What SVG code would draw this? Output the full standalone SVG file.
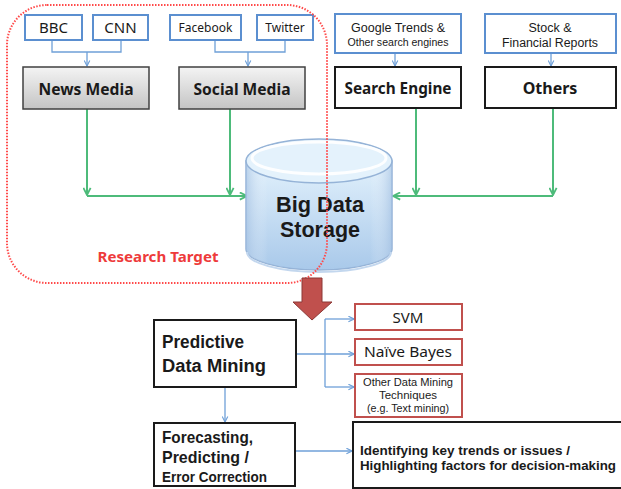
<svg xmlns="http://www.w3.org/2000/svg" width="621" height="489" viewBox="0 0 621 489">
<style>
.t{font-family:"Noto Sans","Open Sans","Liberation Sans",sans-serif;fill:#1a1a1a}
.m{font-family:"Liberation Sans","Noto Sans",sans-serif;fill:#1a1a1a}
.b{font-weight:700}
.src{fill:#fff;stroke:#5b8fd0;stroke-width:2}
.grey{fill:url(#gg);stroke:#404040;stroke-width:1.5}
.wb{fill:#fff;stroke:#1a1a1a;stroke-width:2}
.rb{fill:#fff;stroke:#c0504d;stroke-width:2}
.blue{fill:none;stroke:#6fa0d8;stroke-width:1.3}
.green{fill:none;stroke:#4dbb7a;stroke-width:2}
</style>
<defs>
<linearGradient id="gg" x1="0" y1="0" x2="0" y2="1">
<stop offset="0" stop-color="#f4f4f4"/><stop offset="1" stop-color="#c4c4c4"/>
</linearGradient>
<linearGradient id="cyl" x1="0" y1="0" x2="0" y2="1">
<stop offset="0" stop-color="#e2f1fc"/><stop offset="1" stop-color="#a9c9ea"/>
</linearGradient>
<linearGradient id="cylside" x1="0" y1="0" x2="1" y2="0">
<stop offset="0" stop-color="#9fbde0" stop-opacity="0.6"/><stop offset="0.15" stop-color="#fff" stop-opacity="0"/><stop offset="0.85" stop-color="#fff" stop-opacity="0"/><stop offset="1" stop-color="#9fbde0" stop-opacity="0.6"/>
</linearGradient>
<marker id="ab" viewBox="0 0 10 10" refX="9" refY="5" markerWidth="7" markerHeight="7" orient="auto" markerUnits="userSpaceOnUse">
<path d="M1,1 L9,5 L1,9" fill="none" stroke="#6fa0d8" stroke-width="1.6"/>
</marker>
<marker id="ag" viewBox="0 0 10 10" refX="9" refY="5" markerWidth="9" markerHeight="9" orient="auto" markerUnits="userSpaceOnUse">
<path d="M1,1 L9,5 L1,9" fill="none" stroke="#4dbb7a" stroke-width="2"/>
</marker>
</defs>
<rect width="621" height="489" fill="#fff"/>

<g id="connectors">
<path class="blue" d="M52,40 V52 H121 V40"/>
<path class="blue" d="M87,52 V66" marker-end="url(#ab)"/>
<path class="blue" d="M215,40 V52 H285 V40"/>
<path class="blue" d="M248,52 V66" marker-end="url(#ab)"/>
<path class="blue" d="M395,53 V66" marker-end="url(#ab)"/>
<path class="blue" d="M551,53 V66" marker-end="url(#ab)"/>
<path class="green" d="M87,109 V195" marker-end="url(#ag)"/>
<path class="green" d="M230,109 V195" marker-end="url(#ag)"/>
<path class="green" d="M87,196 H247" marker-end="url(#ag)"/>
<path class="green" d="M416,109 V195" marker-end="url(#ag)"/>
<path class="green" d="M553,109 V195" marker-end="url(#ag)"/>
<path class="green" d="M553,196 H393" marker-end="url(#ag)"/>
<path class="blue" d="M296,354 H354" marker-end="url(#ab)"/>
<path class="blue" d="M325,319 V387"/>
<path class="blue" d="M325,319 H354" marker-end="url(#ab)"/>
<path class="blue" d="M325,387 H354" marker-end="url(#ab)"/>
<path class="blue" d="M225,387 V422" marker-end="url(#ab)"/>
<path class="blue" d="M295,451 H352" marker-end="url(#ab)"/>
</g>

<g id="bbc"><rect class="src" x="25" y="15" width="57" height="25"/><text class="t" x="53.5" y="33" font-size="15" text-anchor="middle">BBC</text></g>
<g id="cnn"><rect class="src" x="93" y="15" width="55" height="25"/><text class="t" x="120.5" y="33" font-size="15" text-anchor="middle">CNN</text></g>
<g id="facebook"><rect class="src" x="170" y="15" width="71" height="25"/><text class="t" x="205.5" y="32" font-size="12" text-anchor="middle">Facebook</text></g>
<g id="twitter"><rect class="src" x="257" y="15" width="56" height="25"/><text class="t" x="285" y="32" font-size="12" text-anchor="middle">Twitter</text></g>
<g id="google"><rect class="src" x="335" y="14" width="126" height="39"/><text class="m" x="398" y="32" font-size="12" text-anchor="middle" textLength="94" lengthAdjust="spacingAndGlyphs">Google Trends &amp;</text><text class="m" x="398" y="46" font-size="11.5" text-anchor="middle" textLength="101" lengthAdjust="spacingAndGlyphs">Other search engines</text></g>
<g id="stock"><rect class="src" x="485" y="14" width="131" height="39"/><text class="m" x="550" y="32" font-size="12.5" text-anchor="middle">Stock &amp;</text><text class="m" x="550" y="47" font-size="12.5" text-anchor="middle" textLength="96" lengthAdjust="spacingAndGlyphs">Financial Reports</text></g>

<g id="news-media"><rect class="grey" x="23" y="67" width="126" height="42"/><text class="t b" x="86" y="95" font-size="16" text-anchor="middle" textLength="95" lengthAdjust="spacingAndGlyphs">News Media</text></g>
<g id="social-media"><rect class="grey" x="179" y="67" width="126" height="42"/><text class="t b" x="242" y="95" font-size="16" text-anchor="middle" textLength="97" lengthAdjust="spacingAndGlyphs">Social Media</text></g>
<g id="search-engine"><rect class="wb" x="335" y="67" width="126" height="41"/><text class="t b" x="398" y="94" font-size="16" text-anchor="middle" textLength="107" lengthAdjust="spacingAndGlyphs">Search Engine</text></g>
<g id="others"><rect class="wb" x="485" y="67" width="131" height="41"/><text class="t b" x="550" y="94" font-size="16" text-anchor="middle">Others</text></g>

<g id="big-data-storage">
<path d="M246,161 V249 A73,21 0 0 0 392,249 V161 Z" fill="url(#cyl)" stroke="#95b3d7" stroke-width="1.5"/>
<path d="M246,161 V249 A73,21 0 0 0 392,249 V161 Z" fill="url(#cylside)"/>
<path d="M247,252 A72,20 0 0 0 391,252" fill="none" stroke="#c3d7ee" stroke-width="2"/>
<ellipse cx="319" cy="161" rx="73" ry="22" fill="#e4f2fc" stroke="#95b3d7" stroke-width="1.5"/>
<ellipse cx="319" cy="158" rx="67" ry="16" fill="none" stroke="#fff" stroke-width="3" opacity="0.9"/>
<text class="m b" x="320" y="212" font-size="22" text-anchor="middle" textLength="88" lengthAdjust="spacingAndGlyphs">Big Data</text>
<text class="m b" x="320" y="237" font-size="22" text-anchor="middle" textLength="80" lengthAdjust="spacingAndGlyphs">Storage</text>
</g>

<g id="research-target">
<rect x="7" y="5" width="320" height="278" rx="40" ry="40" fill="none" stroke="#ff4a4a" stroke-width="2" stroke-dasharray="1.5 1.5"/>
<text x="158" y="262" font-family="Noto Sans, Open Sans, sans-serif" font-weight="700" font-size="15" fill="#ee3b3b" text-anchor="middle" textLength="121" lengthAdjust="spacingAndGlyphs">Research Target</text>
</g>

<g id="big-arrow">
<path d="M302,278 H322 V302 H332 L312,320 L293,302 H302 Z" fill="#c0504d" stroke="#8c3836" stroke-width="1"/>
</g>

<g id="predictive"><rect class="wb" x="154" y="320" width="142" height="67"/><text class="m b" x="162" y="348" font-size="18" textLength="82" lengthAdjust="spacingAndGlyphs">Predictive</text><text class="m b" x="162" y="372" font-size="18" textLength="104" lengthAdjust="spacingAndGlyphs">Data Mining</text></g>
<g id="svm"><rect class="rb" x="355" y="304" width="107" height="26"/><text class="t" x="408" y="323" font-size="15" text-anchor="middle">SVM</text></g>
<g id="naive-bayes"><rect class="rb" x="355" y="339" width="107" height="26"/><text class="t" x="408" y="357" font-size="15" text-anchor="middle" textLength="88" lengthAdjust="spacingAndGlyphs">Naïve Bayes</text></g>
<g id="other-dm"><rect class="rb" x="355" y="374" width="107" height="43"/><text class="m" x="408" y="386" font-size="10.5" text-anchor="middle" textLength="90" lengthAdjust="spacingAndGlyphs">Other Data Mining</text><text class="m" x="408" y="399" font-size="10.5" text-anchor="middle" textLength="58" lengthAdjust="spacingAndGlyphs">Techniques</text><text class="m" x="408" y="412" font-size="10.5" text-anchor="middle" textLength="82" lengthAdjust="spacingAndGlyphs">(e.g. Text mining)</text></g>

<g id="forecasting"><rect class="wb" x="154" y="423" width="141" height="63"/><text class="m b" x="162" y="443" font-size="17" textLength="91" lengthAdjust="spacingAndGlyphs">Forecasting,</text><text class="m b" x="162" y="463" font-size="17" textLength="87" lengthAdjust="spacingAndGlyphs">Predicting /</text><text class="m b" x="162" y="482" font-size="14.5" textLength="105" lengthAdjust="spacingAndGlyphs">Error Correction</text></g>
<g id="identifying"><rect class="wb" x="353" y="422" width="280" height="66"/><text class="m b" x="360" y="455" font-size="13" textLength="210" lengthAdjust="spacingAndGlyphs">Identifying key trends or issues /</text><text class="m b" x="360" y="470" font-size="13" textLength="256" lengthAdjust="spacingAndGlyphs">Highlighting factors for decision-making</text></g>
</svg>
